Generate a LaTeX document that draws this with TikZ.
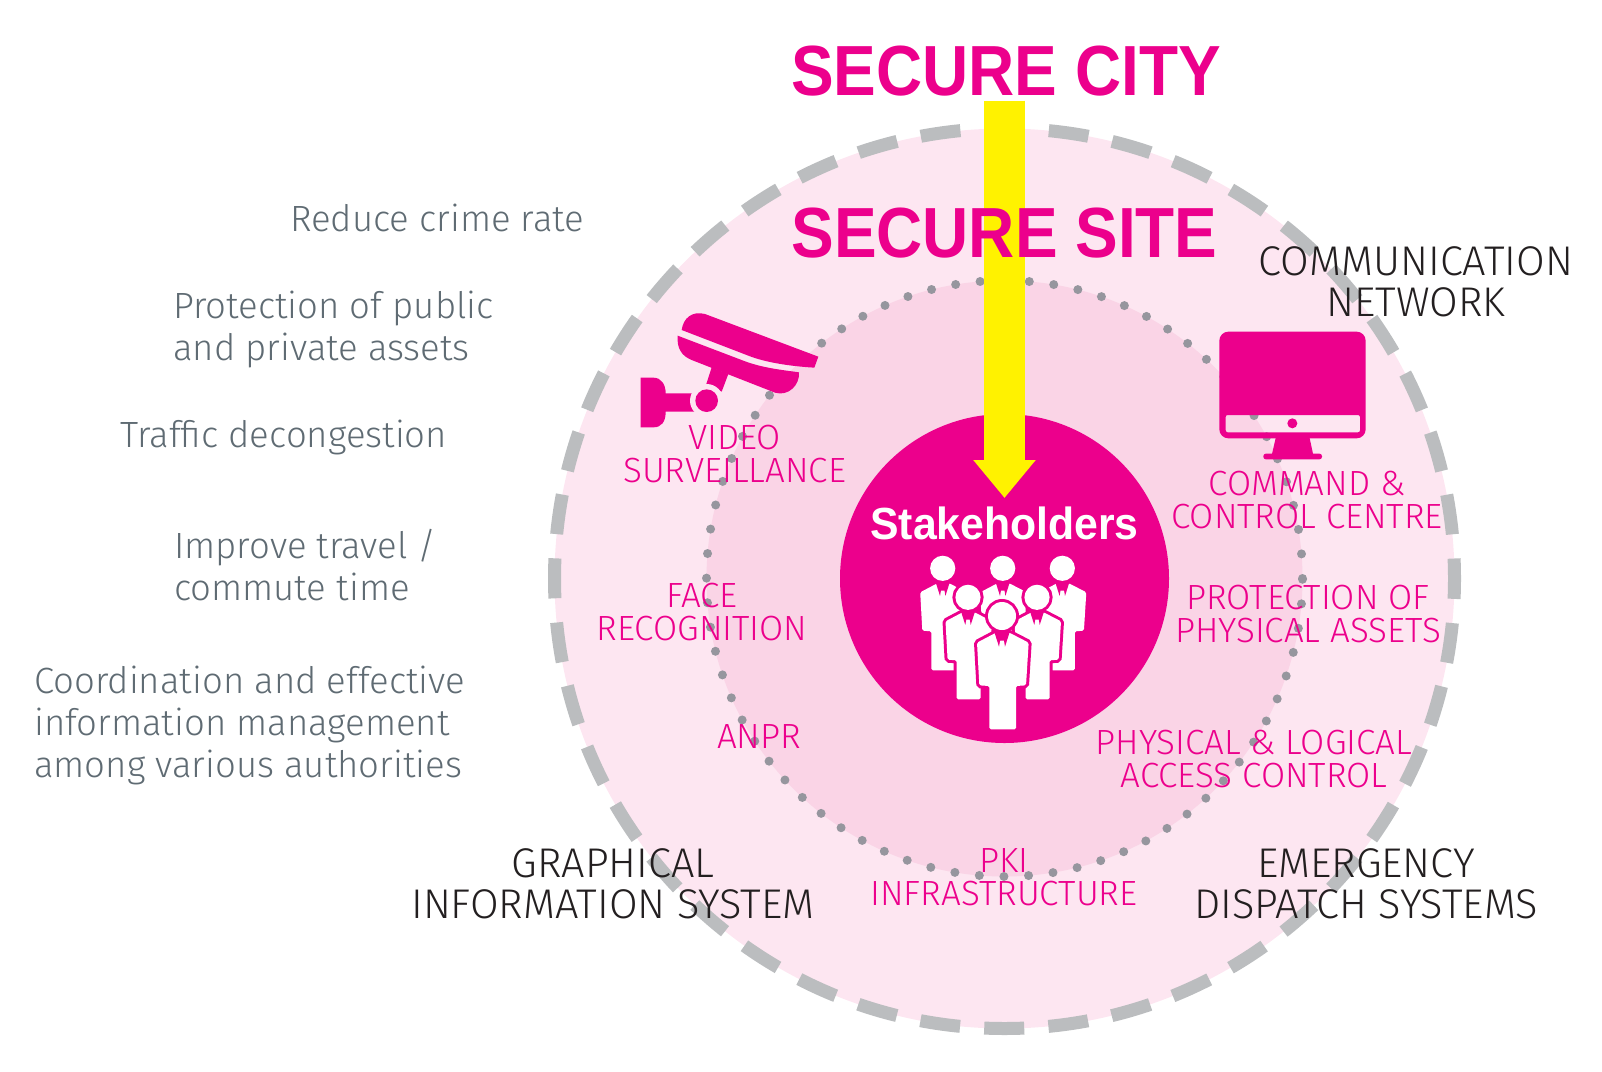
\documentclass[tikz,border=0pt]{standalone}
\usepackage{fontspec}
\usetikzlibrary{arrows.meta}
\setmainfont{Fira Sans Light}
\newfontfamily\headfont[FakeStretch=0.9]{Liberation Sans}
\newfontfamily\stakefont[FakeStretch=0.95]{Liberation Sans}
\definecolor{hotpink}{HTML}{EC008C}
\definecolor{citypink}{HTML}{FDE6F1}
\definecolor{sitepink}{HTML}{FAD4E6}
\definecolor{dashgray}{HTML}{BBBDBF}
\definecolor{dotgray}{HTML}{96969E}
\definecolor{arrowyellow}{HTML}{FFF200}
\definecolor{goaltext}{HTML}{5F6B73}
\definecolor{systemtext}{HTML}{231F20}
\tikzset{
  person/.pic={
    \path[preaction={draw=hotpink,line width=6pt},fill=white,rounded corners=1.5pt]
      (-18,50) -- (-75,80) -- (-68,208) -- (-38,210) -- (-38,340) -- (42,340)
      -- (42,210) -- (72,208) -- (80,80) -- (22,50) -- cycle;
    \fill[hotpink] (-24,45) -- (24,45) -- (9,92) -- (6,74) -- (-6,74) -- (-9,92) -- cycle;
    \path[preaction={draw=hotpink,line width=6pt},fill=white] (0,0) circle [radius=42];
  }
}
\begin{document}
\begin{tikzpicture}[x=1pt,y=-1pt]
  \tikzstyle{goal}=[anchor=west,align=left,inner sep=0pt,text=goaltext,font=\fontsize{36.5}{42}\selectfont]
  \tikzstyle{system}=[align=center,inner sep=0pt,text=systemtext,font=\fontsize{41.5}{41.5}\selectfont]
  \tikzstyle{element}=[align=center,inner sep=0pt,text=hotpink,font=\fontsize{35}{33}\selectfont]
  \tikzstyle{heading}=[inner sep=0pt,text=hotpink,font=\headfont\bfseries\fontsize{71}{71}\selectfont]
  \tikzstyle{ring}=[circle,inner sep=0pt]
  \useasboundingbox (0,0) rectangle (1602,1071);
  \node[ring,minimum size=900pt,fill=citypink,draw=dashgray,line width=13pt,
        dash pattern=on 40pt off 24.26pt,dash phase=20pt] (city) at (1004.5,578.5) {};
  \node[ring,minimum size=596pt,fill=sitepink,draw=dotgray,line width=9pt,line cap=round,
        dash pattern=on 0pt off 24.63pt] (site) at (1004.5,578.5) {};
  \node[ring,minimum size=329pt,fill=hotpink] (stakeholders) at (1004.5,578.5) {};
  \coordinate (arrowstart) at (1004.5,100.7);
  \coordinate (arrowend) at (1004.5,498);
  \draw[arrowyellow,line width=41pt,-{Triangle[length=38pt,width=60pt]}] (arrowstart) -- (arrowend);
  \node[heading] (securecity) at (1006,71.5) {SECURE CITY};
  \node[heading] (securesite) at (1004.5,233) {SECURE SITE};
  \node[inner sep=0pt,text=white,font=\stakefont\bfseries\fontsize{45}{45}\selectfont] (stakelabel) at (1004.5,523.5) {Stakeholders};
  \pic[scale=0.3] at (942.7,568.3) {person};
  \pic[scale=0.3] at (1002.7,568.3) {person};
  \pic[scale=0.3] at (1062.3,568.3) {person};
  \pic[scale=0.3] at (968,597.3) {person};
  \pic[scale=0.3] at (1037,597.3) {person};
  \pic[scale=1/3] at (1002,616) {person};
  \begin{scope}[shift={(620,290)},scale=1/3]
    \fill[hotpink] (185,120) .. controls (190,85) and (215,62) .. (255,72) -- (595,200) -- (583,233)
      .. controls (500,228) and (430,215) .. (385,197) -- cycle;
    \fill[hotpink] (173,137) -- (370,212) .. controls (430,235) and (490,240) .. (537,247)
      .. controls (540,285) and (505,320) .. (465,308) -- (215,210)
      .. controls (185,198) and (170,175) .. (173,137) -- cycle;
    \fill[hotpink] (275,232) -- (258,285) -- (305,305) -- (325,252) -- cycle;
    \fill[hotpink] (62,263) -- (100,263) .. controls (125,263) and (137,285) .. (137,310) -- (230,310)
      -- (230,365) -- (137,365) .. controls (137,395) and (125,412) .. (100,412) -- (62,412) -- cycle;
    \fill[citypink] (260,332) circle [radius=50];
    \fill[hotpink] (260,332) circle [radius=34];
  \end{scope}
  \begin{scope}[shift={(1190,310)},scale=1/3]
    \fill[hotpink,even odd rule] [rounded corners=9pt] (88,65) rectangle (527,385)
      [rounded corners=2pt] (107,315) rectangle (510,367);
    \fill[hotpink] (307,340) circle [radius=15];
    \fill[hotpink] (258,380) -- (245,436) -- (370,436) -- (358,380) -- cycle;
    \fill[hotpink,rounded corners=2.5pt] (220,431) rectangle (396,448);
  \end{scope}
  \node[goal] (crime) at (290,218) {Reduce crime rate};
  \node[goal] (assets) at (173,329.5) {Protection of public\\and private assets};
  \node[goal] (traffic) at (120,437) {Traffic decongestion};
  \node[goal] (travel) at (174,565.5) {Improve travel /\\commute time};
  \node[goal] (coordination) at (34,725) {Coordination and effective\\information management\\among various authorities};
  \node[system] (network) at (1416,282) {COMMUNICATION\\NETWORK};
  \node[system] (gis) at (613,884) {GRAPHICAL\\INFORMATION SYSTEM};
  \node[system] (dispatch) at (1366,884) {EMERGENCY\\DISPATCH SYSTEMS};
  \node[element] (video) at (734.6,454) {VIDEO\\SURVEILLANCE};
  \node[element] (command) at (1307,500) {COMMAND \&\\CONTROL CENTRE};
  \node[element] (face) at (702,612) {FACE\\RECOGNITION};
  \node[element] (physical) at (1308,614) {PROTECTION OF\\PHYSICAL ASSETS};
  \node[element] (anpr) at (759,736) {ANPR};
  \node[element] (access) at (1254,759) {PHYSICAL \& LOGICAL\\ACCESS CONTROL};
  \node[element] (pki) at (1004,877.5) {PKI\\INFRASTRUCTURE};
\end{tikzpicture}
\end{document}
